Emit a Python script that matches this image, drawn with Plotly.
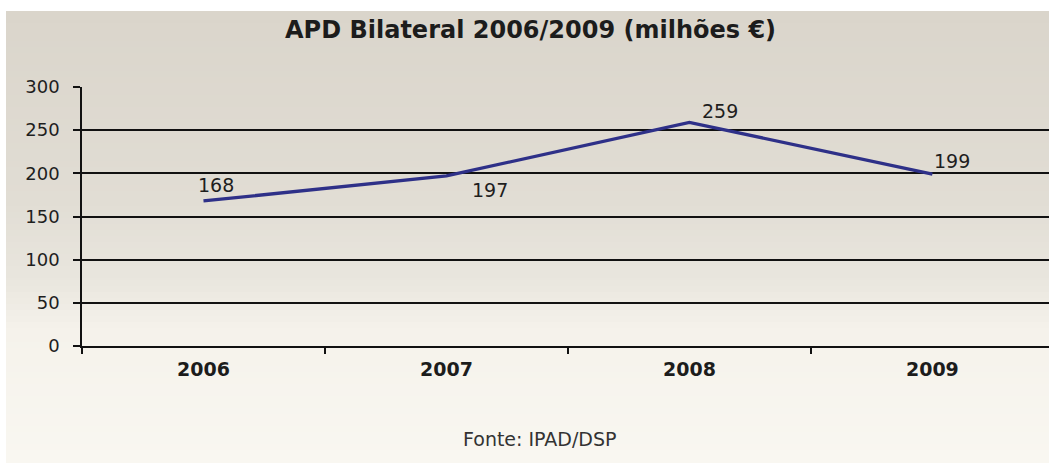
import plotly.graph_objects as go

# ---- data ----
years = ["2006", "2007", "2008", "2009"]
values = [168, 197, 259, 199]
y_ticks = [0, 50, 100, 150, 200, 250, 300]
title_text = "APD Bilateral 2006/2009 (milhões €)"
source_text = "Fonte: IPAD/DSP"

# ---- layout geometry (pixels) ----
W, H = 1049, 463
ML, MR, MT, MB = 82, 0, 87, 117
PW, PH = W - ML - MR, H - MT - MB

def px_x(p):
    return (p - ML) / PW

def px_y(p):
    return (H - MB - p) / PH

# label offsets (xshift, yshift) per point
label_offsets = [(13, 16), (44, -14), (31, 11), (20, 13)]

fig = go.Figure()
fig.add_trace(go.Scatter(
    x=years, y=values, mode="lines",
    line=dict(color="#2e3088", width=3.3),
    hoverinfo="skip", showlegend=False,
))

# background gradient bands (scan look)
def lerp(c1, c2, t):
    return tuple(round(a + (b - a) * t) for a, b in zip(c1, c2))

stops = [(11, (218, 213, 203)), (200, (225, 221, 212)), (280, (233, 230, 222)),
         (330, (245, 242, 235)), (463, (249, 247, 241))]
shapes = []
shapes.append(dict(type="rect", xref="paper", yref="paper",
                   x0=px_x(0), x1=px_x(W), y0=px_y(0), y1=px_y(11),
                   fillcolor="white", line=dict(width=0), layer="below"))
band = 6
for i in range(len(stops) - 1):
    (ya, ca), (yb, cb) = stops[i], stops[i + 1]
    y = ya
    while y < yb:
        y2 = min(y + band, yb)
        t = ((y + y2) / 2 - ya) / (yb - ya)
        c = lerp(ca, cb, t)
        shapes.append(dict(type="rect", xref="paper", yref="paper",
                           x0=px_x(6), x1=px_x(W), y0=px_y(y2), y1=px_y(y),
                           fillcolor="rgb(%d,%d,%d)" % c, line=dict(width=0),
                           layer="below"))
        y = y2

annotations = []
for i, (v, (dx, dy)) in enumerate(zip(values, label_offsets)):
    annotations.append(dict(x=i, y=v, xref="x", yref="y", text=str(v),
                            showarrow=False, xshift=dx, yshift=dy,
                            font=dict(family="DejaVu Sans", size=19, color="#1e1e1e")))
annotations.append(dict(x=px_x(530), y=px_y(30), xref="paper", yref="paper",
                        text="<b>" + title_text + "</b>", showarrow=False,
                        xanchor="center", yanchor="middle",
                        font=dict(family="DejaVu Sans", size=24, color="#1c1c1c")))
annotations.append(dict(x=px_x(540), y=px_y(439), xref="paper", yref="paper",
                        text=source_text, showarrow=False,
                        xanchor="center", yanchor="middle",
                        font=dict(family="DejaVu Sans", size=19, color="#333333")))

fig.update_layout(
    width=W, height=H,
    margin=dict(l=ML, r=MR, t=MT, b=MB, pad=0),
    paper_bgcolor="white",
    plot_bgcolor="rgba(0,0,0,0)",
    shapes=shapes,
    annotations=annotations,
    xaxis=dict(
        type="category", range=[-0.5, 3.48],
        showgrid=False, showline=True, linecolor="#111", linewidth=1.5,
        ticks="outside", tickson="boundaries", ticklen=6, tickwidth=1.5, tickcolor="#111",
        tickfont=dict(family="DejaVu Sans", size=19, color="#1c1c1c", weight="bold"),
        ticklabelstandoff=5,
        zeroline=False,
    ),
    yaxis=dict(
        range=[0, 300], tickvals=y_ticks,
        showgrid=True, gridcolor="#111", gridwidth=1.5,
        showline=True, linecolor="#111", linewidth=1.5,
        ticks="outside", ticklen=7, tickwidth=1.5, tickcolor="#111",
        tickfont=dict(family="DejaVu Sans", size=18, color="#1e1e1e"),
        ticklabelstandoff=10,
        zeroline=False,
    ),
)

fig.write_html("out.html")
